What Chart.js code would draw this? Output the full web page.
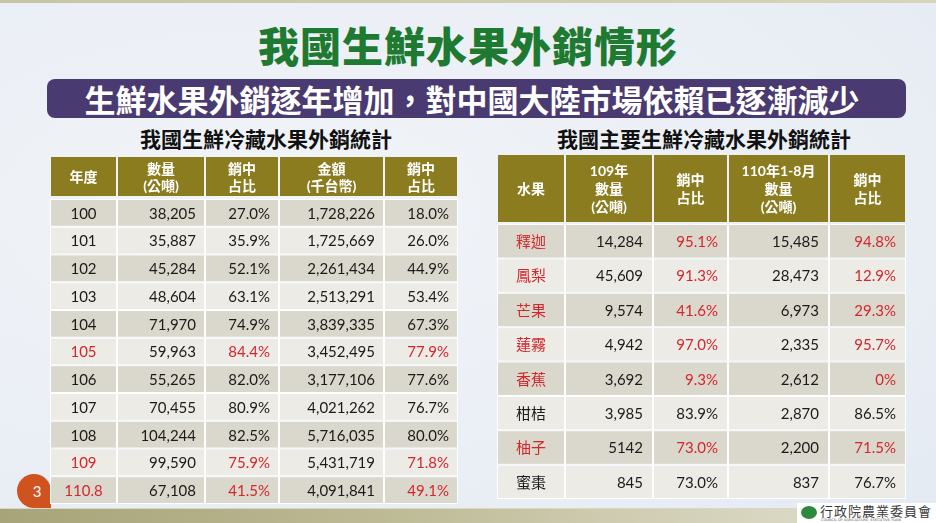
<!DOCTYPE html>
<html lang="zh-Hant">
<head>
<meta charset="utf-8">
<script src="https://cdn.jsdelivr.net/npm/chart.js@4.4.0/dist/chart.umd.min.js"></script>
<style>
    body {
        margin: 0;
        width: 936px;
        height: 523px;
        overflow: hidden;
        position: relative;
        background: radial-gradient(ellipse at 30% 40%, #f1f4f8 0%, #e9eef5 70%, #e4eaf2 100%);
        font-family: 'Noto Sans CJK TC', sans-serif;
    }
    .topbar { position: absolute; left: 0; top: 0; width: 936px; height: 3px; background: linear-gradient(to right, #c8c5a2, #d7d4b8); }
    .bottombar { position: absolute; left: 0; top: 508px; width: 936px; height: 15px; background: linear-gradient(to right, #a7a479, #bcb994 40%, #d5d2bb 75%, #e2dfcf); border-top: 1px solid #d9d6c2; }
    .title { position: absolute; left: 0; width: 936px; top: 20px; text-align: center; font-size: 41px; line-height: 48px; font-weight: 900; color: #1e7a30; letter-spacing: 1px; }
    .banner { position: absolute; left: 47px; top: 79px; width: 859px; height: 39px; border-radius: 8px; background: #4a3a72; }
    .banner span { position: absolute; left: 0; width: 850px; top: 0; text-align: center; font-size: 31px; line-height: 39px; font-weight: 700; color: #fff; white-space: nowrap; }
    .sub { position: absolute; top: 126px; font-size: 21px; line-height: 24px; font-weight: 700; color: #111; text-align: center; white-space: nowrap; }
    .pagenum { position: absolute; left: 17px; top: 474px; width: 34px; height: 34px; border-radius: 50% 50% 0 50%; background: #d0521f; color: #fff; font-family: Lato, sans-serif; font-size: 15px; line-height: 34px; text-align: center; }
    .pagenum span { position: relative; left: 3px; }
    #leftBox { position: absolute; left: 50px; top: 157px; }
    #rightBox { position: absolute; left: 497px; top: 155px; }
    .logo { position: absolute; left: 797px; top: 503px; width: 139px; height: 20px; background: #fff; }
    .logo .icon { position: absolute; left: 4px; top: 3px; width: 16px; height: 13px; border-radius: 50%; background: #2d8a3c; }
    .logo .name { position: absolute; left: 23px; top: 0px; font-size: 13px; line-height: 15px; color: #3a3a3a; letter-spacing: 1px; }
    .logo .en { position: absolute; left: 24px; top: 15px; font-family: 'DejaVu Sans', sans-serif; font-size: 3.5px; line-height: 4px; color: #555; white-space: nowrap; }
</style>
</head>
<body>
<div class="topbar"></div>
<div class="title">我國生鮮水果外銷情形</div>
<div class="banner"><span>生鮮水果外銷逐年增加，對中國大陸市場依賴已逐漸減少</span></div>
<div class="sub" style="left:140px;width:250px;">我國生鮮冷藏水果外銷統計</div>
<div class="sub" style="left:549px;width:310px;">我國主要生鮮冷藏水果外銷統計</div>
<div class="pagenum"><span>3</span></div>
<div id="leftBox"><canvas id="yearTable" width="408" height="347"></canvas></div>
<div id="rightBox"><canvas id="fruitTable" width="409" height="344"></canvas></div>
<div class="bottombar"></div>
<div class="logo"><div class="icon"></div><div class="name">行政院農業委員會</div><div class="en">COUNCIL OF AGRICULTURE, EXECUTIVE YUAN</div></div>
<script>
// 左表：我國生鮮冷藏水果外銷統計
const years = ['100', '101', '102', '103', '104', '105', '106', '107', '108', '109', '110.8'];
const volume = [38205, 35887, 45284, 48604, 71970, 59963, 55265, 70455, 104244, 99590, 67108];
const volumeChinaShare = [27.0, 35.9, 52.1, 63.1, 74.9, 84.4, 82.0, 80.9, 82.5, 75.9, 41.5];
const value = [1728226, 1725669, 2261434, 2513291, 3839335, 3452495, 3177106, 4021262, 5716035, 5431719, 4091841];
const valueChinaShare = [18.0, 26.0, 44.9, 53.4, 67.3, 77.9, 77.6, 76.7, 80.0, 71.8, 49.1];
const redYears = ['105', '109', '110.8'];

// 右表：我國主要生鮮冷藏水果外銷統計
const fruits = ['釋迦', '鳳梨', '芒果', '蓮霧', '香蕉', '柑桔', '柚子', '蜜棗'];
const volume109 = [14284, 45609, 9574, 4942, 3692, 3985, '5142', 845];
const share109 = [95.1, 91.3, 41.6, 97.0, 9.3, 83.9, 73.0, 73.0];
const volume110 = [15485, 28473, 6973, 2335, 2612, 2870, 2200, 837];
const share110 = [94.8, 12.9, 29.3, 95.7, 0, 86.5, 71.5, 76.7];
const redFruits = ['釋迦', '鳳梨', '芒果', '蓮霧', '香蕉', '柚子'];

function fmtNum(v) {
    return typeof v === 'string' ? v : v.toLocaleString('en-US');
}
function fmtPct(v) {
    return v === 0 ? '0%' : v.toFixed(1) + '%';
}

const RED = '#d3272d';
const INK = '#1b1b1b';

// 表頭與儲存格文字
const tableCells = {
    id: 'tableCells',
    afterDatasetsDraw(chart, args, opts) {
        const ctx = chart.ctx;
        ctx.save();
        opts.columns.forEach((col, i) => {
            const bars = chart.getDatasetMeta(i).data;
            const left = Math.min(bars[0].base, bars[0].x);
            const right = Math.max(bars[0].base, bars[0].x);

            ctx.fillStyle = opts.headColor;
            ctx.fillRect(left + 1, 0, right - left - 2, opts.headHeight);
            ctx.fillStyle = '#ffffff';
            ctx.font = opts.headFont;
            ctx.textAlign = 'center';
            ctx.textBaseline = 'middle';
            const n = col.head.length;
            col.head.forEach((line, k) => {
                ctx.fillText(line, (left + right) / 2, opts.headHeight / 2 + 1 + (k - (n - 1) / 2) * opts.headLine);
            });

            ctx.font = opts.bodyFont;
            bars.forEach((bar, j) => {
                ctx.fillStyle = col.red && opts.redRows[j] ? RED : INK;
                if (col.align === 'center') {
                    ctx.textAlign = 'center';
                    ctx.fillText(col.text[j], (left + right) / 2, bar.y + 1);
                } else {
                    ctx.textAlign = 'right';
                    ctx.fillText(col.text[j], right - opts.pad, bar.y + 1);
                }
            });
        });
        ctx.restore();
    }
};

function buildTable(canvasId, rowLabels, columns, cfg) {
    const total = columns.reduce((s, c) => s + c.span, 0);
    return new Chart(document.getElementById(canvasId).getContext('2d'), {
        type: 'bar',
        data: {
            labels: rowLabels,
            datasets: columns.map(col => ({
                label: col.head.join(''),
                data: rowLabels.map(() => col.span),
                backgroundColor: c => c.dataIndex % 2 === 0 ? '#dad7cc' : '#edebe5',
                borderColor: '#ffffff',
                borderWidth: 1,
                borderSkipped: false,
                inflateAmount: 0,
                barPercentage: 1,
                categoryPercentage: 1
            }))
        },
        options: {
            indexAxis: 'y',
            responsive: false,
            animation: false,
            events: [],
            layout: { padding: { top: cfg.headHeight + cfg.gap } },
            scales: {
                x: { stacked: true, display: false, min: 0, max: total },
                y: { stacked: true, display: false }
            },
            plugins: {
                legend: { display: false },
                tooltip: { enabled: false },
                tableCells: Object.assign({ columns: columns }, cfg)
            }
        },
        plugins: [tableCells]
    });
}

document.addEventListener('DOMContentLoaded', function() {
    buildTable('yearTable', years, [
        { head: ['年度'], span: 67, align: 'center', red: true, text: years },
        { head: ['數量', '(公噸)'], span: 88, red: false, text: volume.map(fmtNum) },
        { head: ['銷中', '占比'], span: 74, red: true, text: volumeChinaShare.map(fmtPct) },
        { head: ['金額', '(千台幣)'], span: 105, red: false, text: value.map(fmtNum) },
        { head: ['銷中', '占比'], span: 74, red: true, text: valueChinaShare.map(fmtPct) }
    ], {
        headHeight: 39, gap: 3, headLine: 17, pad: 9,
        headColor: '#8b7c1f',
        headFont: 'bold 14px Lato, "Noto Sans CJK TC"',
        bodyFont: '15px Lato, "Noto Sans CJK TC"',
        redRows: years.map(y => redYears.includes(y))
    });

    buildTable('fruitTable', fruits, [
        { head: ['水果'], span: 68, align: 'center', red: true, text: fruits },
        { head: ['109年', '數量', '(公噸)'], span: 88, red: false, text: volume109.map(fmtNum) },
        { head: ['銷中', '占比'], span: 75, red: true, text: share109.map(fmtPct) },
        { head: ['110年1-8月', '數量', '(公噸)'], span: 101, red: false, text: volume110.map(fmtNum) },
        { head: ['銷中', '占比'], span: 77, red: true, text: share110.map(fmtPct) }
    ], {
        headHeight: 67, gap: 2, headLine: 18, pad: 10,
        headColor: '#8b7c1f',
        headFont: 'bold 14px Lato, "Noto Sans CJK TC"',
        bodyFont: '15px Lato, "Noto Sans CJK TC"',
        redRows: fruits.map(f => redFruits.includes(f))
    });
});
</script>
</body>
</html>
